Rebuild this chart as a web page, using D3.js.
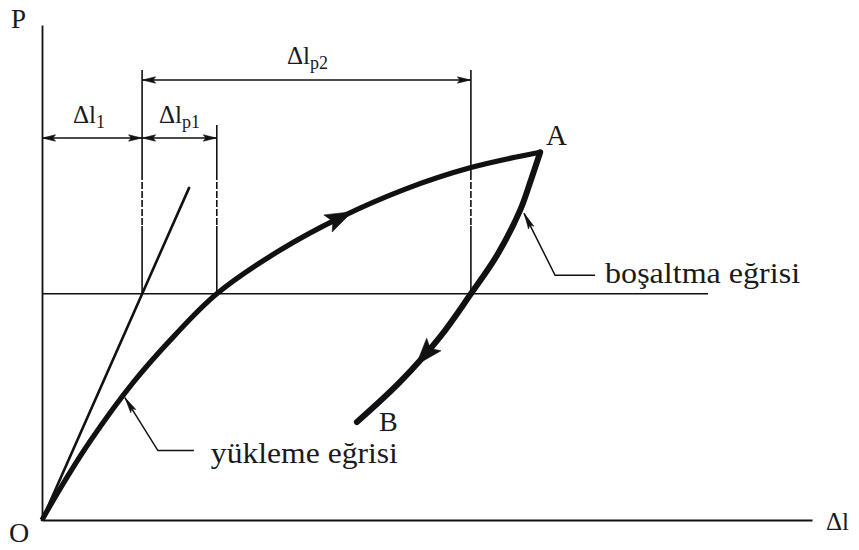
<!DOCTYPE html>
<html>
<head>
<meta charset="utf-8">
<script src="https://cdn.jsdelivr.net/npm/d3@7"></script>
<style>
  html, body { margin: 0; padding: 0; background: #fff; }
  svg { display: block; }
  text { font-family: "Times New Roman", Times, "Liberation Serif", Tinos, "Nimbus Roman", serif; fill: #1a1a1a; }
</style>
</head>
<body>
<svg id="chart" width="859" height="550"></svg>
<script>
// Load–elongation diagram: loading curve O→A, unloading curve A→B
const loadDl   = [0, 2.3, 6.2, 11.8, 17.3, 22.7, 30.9, 38.7, 47.1, 55.7, 64.7];
const loadP    = [0, 6.2, 15.8, 27.7, 37.4, 45.7, 54.5, 61.1, 66.8, 71.2, 74.3];
const unloadDl = [64.7, 63.5, 62.1, 59.1, 55.7, 51.7, 46.5, 40.9];
const unloadP  = [74.3, 68.7, 62.6, 53.5, 45.7, 37.0, 27.9, 19.8];
// elastic (proportional) line
const elasticDl = [0, 19.1];
const elasticP  = [0, 67.1];
// load level used to read the elongations
const levelP = 45.7;
const levelEndDl = 86.5;
// elongations read at that level
const dl1  = 13.0;   // Δl1  (elastic)
const dlp1 = 22.7;   // Δlp1 (loading curve)
const dlp2 = 55.7;   // Δlp2 (unloading curve)
// arrow positions along the curves (Δl of the arrow tip)
const loadArrowDl = 40.3;
const unloadArrowDl = 48.6;
// where the name leaders touch the curves (Δl)
const loadLeaderDl = 10.5;
const unloadLeaderDl = 62.1;

const svg = d3.select("#chart");
const x = d3.scaleLinear().domain([0, 100]).range([42, 812]);
const y = d3.scaleLinear().domain([0, 100]).range([520, 25]);

const ink = "#111";

// axes without ticks
svg.append("g").attr("transform", `translate(0,${y(0)})`)
  .call(d3.axisBottom(x).tickValues([]).tickSizeOuter(0))
  .select(".domain").attr("stroke", ink).attr("stroke-width", 1.8);
svg.append("g").attr("transform", `translate(${x(0)},0)`)
  .call(d3.axisLeft(y).tickValues([]).tickSizeOuter(0))
  .select(".domain").attr("stroke", ink).attr("stroke-width", 1.8);

// horizontal load level
svg.append("line")
  .attr("x1", x(0)).attr("x2", x(levelEndDl))
  .attr("y1", y(levelP)).attr("y2", y(levelP))
  .attr("stroke", ink).attr("stroke-width", 1.6);

// extension lines: solid / dashed / solid
function extension(dl, top) {
  const xx = x(dl);
  const segs = [[top, 173, null], [173, 226, "7,2"], [226, y(levelP), null]];
  segs.forEach(([a, b, dash]) => {
    svg.append("line").attr("x1", xx).attr("x2", xx).attr("y1", a).attr("y2", b)
      .attr("stroke", ink).attr("stroke-width", 1.6)
      .attr("stroke-dasharray", dash);
  });
}
extension(dl1, 70);
extension(dlp1, 125);
extension(dlp2, 70);

// filled arrowhead with tip at (tx,ty) pointing along angle
function arrowHead(tx, ty, ang, len, hw) {
  const c = Math.cos(ang), s = Math.sin(ang);
  const bx = tx - c * len, by = ty - s * len;
  const pts = [[tx, ty], [bx - s * hw, by + c * hw], [bx + c * len * 0.2, by + s * len * 0.2], [bx + s * hw, by - c * hw]];
  svg.append("path").attr("d", "M" + pts.map(p => p.join(",")).join("L") + "Z")
    .attr("fill", ink).attr("stroke", ink).attr("stroke-width", 0.6);
}

// dimension lines
function dimension(a, b, yy) {
  const xa = x(a), xb = x(b);
  svg.append("line").attr("x1", xa).attr("x2", xb).attr("y1", yy).attr("y2", yy)
    .attr("stroke", ink).attr("stroke-width", 1.6);
  arrowHead(xa + 0.5, yy, Math.PI, 13, 3.2);
  arrowHead(xb - 0.5, yy, 0, 13, 3.2);
}
dimension(0, dl1, 138);
dimension(dl1, dlp1, 138);
dimension(dl1, dlp2, 80);

// dimension labels with subscripts
function dimLabel(xx, yy, sub) {
  const t = svg.append("text").attr("x", xx).attr("y", yy).attr("font-size", 25);
  t.append("tspan").text("Δl");
  t.append("tspan").attr("font-size", 18).attr("dy", 5).text(sub);
}
dimLabel(73, 123, "1");
dimLabel(159, 123, "p1");
dimLabel(287, 64, "p2");

// elastic line
svg.append("line")
  .attr("x1", x(elasticDl[0])).attr("y1", y(elasticP[0]))
  .attr("x2", x(elasticDl[1])).attr("y2", y(elasticP[1]))
  .attr("stroke", ink).attr("stroke-width", 2.6).attr("stroke-linecap", "round");

const line = d3.line().x(d => x(d[0])).y(d => y(d[1])).curve(d3.curveCatmullRom.alpha(0.5));

const loadPath = svg.append("path")
  .attr("d", line(d3.zip(loadDl, loadP)))
  .attr("fill", "none").attr("stroke", ink).attr("stroke-width", 5.2)
  .attr("stroke-linejoin", "round");
const unloadPath = svg.append("path")
  .attr("d", line(d3.zip(unloadDl, unloadP)))
  .attr("fill", "none").attr("stroke", ink).attr("stroke-width", 6)
  .attr("stroke-linecap", "round").attr("stroke-linejoin", "round");

// length along a path where its x comes closest to a given Δl
function lengthAtDl(node, dl) {
  const total = node.getTotalLength();
  const target = x(dl);
  let best = 0, bestD = Infinity;
  for (let l = 0; l <= total; l += 0.5) {
    const d = Math.abs(node.getPointAtLength(l).x - target);
    if (d < bestD) { bestD = d; best = l; }
  }
  return best;
}

// arrow on a path at a given Δl
function pathArrow(pathSel, dl, len, hw) {
  const node = pathSel.node();
  const at = lengthAtDl(node, dl);
  const tip = node.getPointAtLength(at);
  const back = node.getPointAtLength(Math.max(0, at - len));
  arrowHead(tip.x, tip.y, Math.atan2(tip.y - back.y, tip.x - back.x), len, hw);
}
pathArrow(loadPath, loadArrowDl, 27, 9.5);
pathArrow(unloadPath, unloadArrowDl, 27, 9.5);

// leader lines to the curve names
function leader(pathSel, dl, ox, oy, dx, dy, run, label, tdx, tdy, tlen) {
  const node = pathSel.node();
  const p = node.getPointAtLength(lengthAtDl(node, dl));
  const tip = [p.x + ox, p.y + oy], elbow = [tip[0] + dx, tip[1] + dy], end = [elbow[0] + run, elbow[1]];
  svg.append("path").attr("d", `M${tip}L${elbow}L${end}`)
    .attr("fill", "none").attr("stroke", ink).attr("stroke-width", 1.5);
  arrowHead(tip[0], tip[1], Math.atan2(-dy, -dx), 16, 3);
  svg.append("text").attr("x", end[0] + tdx).attr("y", elbow[1] + tdy)
    .attr("font-size", 29).attr("textLength", tlen).attr("lengthAdjust", "spacingAndGlyphs")
    .text(label);
}
leader(loadPath, loadLeaderDl, 2, 2, 33, 53, 36, "yükleme eğrisi", 17, 12, 187);
leader(unloadPath, unloadLeaderDl, 4, 3, 31, 62, 40, "boşaltma eğrisi", 10, 8, 195);

// point and axis labels
svg.append("text").attr("x", 11).attr("y", 28).attr("font-size", 27).text("P");
svg.append("text").attr("x", 9).attr("y", 542).attr("font-size", 28).text("O");
svg.append("text").attr("x", 826).attr("y", 530).attr("font-size", 25).text("Δl");
svg.append("text").attr("x", 546).attr("y", 145).attr("font-size", 29).text("A");
svg.append("text").attr("x", 379).attr("y", 431).attr("font-size", 28).text("B");
</script>
</body>
</html>
